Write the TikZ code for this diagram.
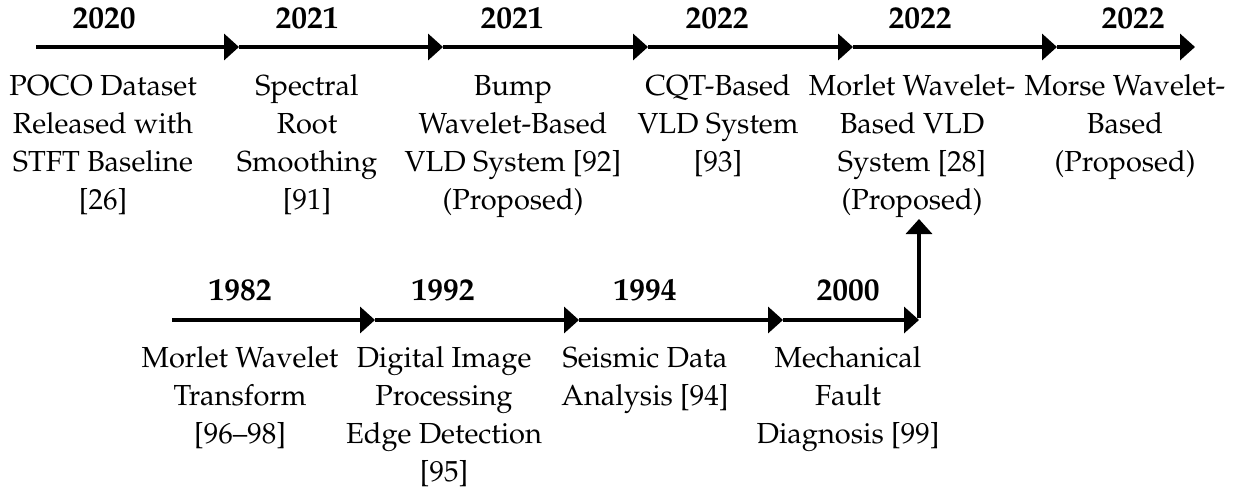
\documentclass[tikz,border=0pt]{standalone}
\usepackage[T1]{fontenc}
\usepackage{mathpazo}
\usetikzlibrary{arrows.meta}

\tikzset{
  flow/.style={line width=3.6pt, -{Triangle[length=15pt,width=26pt]}},
  year/.style={anchor=base, inner sep=0pt, font=\fontsize{31.5}{38}\selectfont\bfseries},
  event/.style={anchor=north, inner sep=0pt, align=center, font=\fontsize{29}{38}\selectfont}
}

\begin{document}
\begin{tikzpicture}[x=1pt, y=-1pt]
\useasboundingbox (0,0) rectangle (1234,491);

% upper timeline points
\coordinate (t0) at (36,47);
\coordinate (t1) at (239,47);
\coordinate (t2) at (443,47);
\coordinate (t3) at (648,47);
\coordinate (t4) at (853,47);
\coordinate (t5) at (1057,47);
\coordinate (t6) at (1195,47);

% lower timeline points
\coordinate (b0) at (172,320);
\coordinate (b1) at (375,320);
\coordinate (b2) at (579,320);
\coordinate (b3) at (783,320);
\coordinate (b4) at (919,320);
\coordinate (up) at (919,219);

% upper row
\node[year] (ya) at (104,28) {2020};
\node[year] (yb) at (307,28) {2021};
\node[year] (yc) at (512,28) {2021};
\node[year] (yd) at (717,28) {2022};
\node[year] (ye) at (920,28) {2022};
\node[year] (yf) at (1133,28) {2022};

\node[event] (ea) at (103,69) {\strut POCO Dataset\\Released with\\STFT Baseline\\{[26]}};
\node[event] (eb) at (307,69) {\strut Spectral\\Root\\Smoothing\\{[91]}};
\node[event] (ec) at (513,69) {\strut Bump\\Wavelet-Based\\VLD System [92]\\(Proposed)};
\node[event] (ed) at (718,69) {\strut CQT-Based\\VLD System\\{[93]}};
\node[event] (ee) at (912,69) {\strut Morlet Wavelet-\\Based VLD\\System [28]\\(Proposed)};
\node[event] (ef) at (1125,69) {\strut Morse Wavelet-\\Based\\(Proposed)};

% lower row
\node[year] (yg) at (240,300) {1982};
\node[year] (yh) at (443,300) {1992};
\node[year] (yi) at (645,300) {1994};
\node[year] (yj) at (848,300) {2000};

\node[event] (eg) at (240,341) {\strut Morlet Wavelet\\Transform\\{[96--98]}};
\node[event] (eh) at (444,341) {\strut Digital Image\\Processing\\Edge Detection\\{[95]}};
\node[event] (ei) at (645,341) {\strut Seismic Data\\Analysis [94]};
\node[event] (ej) at (848,341) {\strut Mechanical\\Fault\\Diagnosis [99]};

% connectors
\draw[flow] (t0) -- (t1);
\draw[flow] (t1) -- (t2);
\draw[flow] (t2) -- (t3);
\draw[flow] (t3) -- (t4);
\draw[flow] (t4) -- (t5);
\draw[flow] (t5) -- (t6);

\draw[flow] (b0) -- (b1);
\draw[flow] (b1) -- (b2);
\draw[flow] (b2) -- (b3);
\draw[flow] (b3) -- (b4);
\draw[flow] ([yshift=1.8pt]b4) -- (up);
\end{tikzpicture}
\end{document}
